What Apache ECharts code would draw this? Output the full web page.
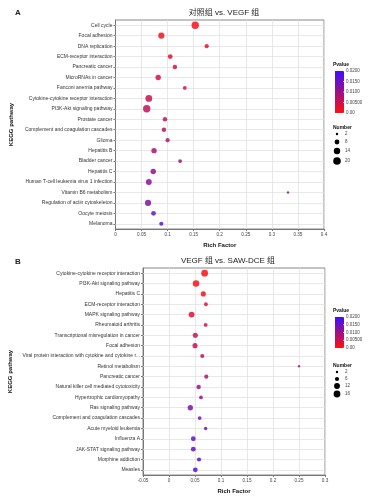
<!DOCTYPE html>
<html>
<head>
<meta charset="utf-8">
<script src="https://cdn.jsdelivr.net/npm/echarts@6/dist/echarts.min.js"></script>
<style>html,body{margin:0;padding:0;background:#fff}#c{width:383px;height:496px}</style>
</head>
<body>
<div id="c"></div>
<script>
// ---------- Panel A data ----------
const catsA = ['Cell cycle','Focal adhesion','DNA replication','ECM-receptor interaction','Pancreatic cancer','MicroRNAs in cancer','Fanconi anemia pathway','Cytokine-cytokine receptor interaction','PI3K-Akt signaling pathway','Prostate cancer','Complement and coagulation cascades','Glioma','Hepatitis B','Bladder cancer','Hepatitis C','Human T-cell leukemia virus 1 infection','Vitamin B6 metabolism','Regulation of actin cytoskeleton','Oocyte meiosis','Melanoma'];
const richA = [0.153,0.088,0.175,0.105,0.114,0.082,0.133,0.064,0.060,0.095,0.093,0.100,0.074,0.124,0.0725,0.064,0.331,0.0625,0.073,0.088];
const countA = [19,13,6,8,7,10,5,16,19,7,7,6,10,5,10,12,2,13,8,6];
const pA = [0.0008,0.0015,0.0025,0.003,0.0035,0.0045,0.005,0.0055,0.006,0.0065,0.007,0.0075,0.0085,0.009,0.011,0.012,0.012,0.013,0.0145,0.017];
const xTicksA = {min:0, max:0.4, interval:0.05};
const pTicksA = ['0.0200','0.0150','0.0100','0.00500','0.00'];
const sizeTicksA = [2,8,14,20];

// ---------- Panel B data ----------
const catsB = ['Cytokine-cytokine receptor interaction','PI3K-Akt signaling pathway','Hepatitis C','ECM-receptor interaction','MAPK signaling pathway','Rheumatoid arthritis','Transcriptional misregulation in cancer','Focal adhesion','Viral protein interaction with cytokine and cytokine r...','Retinol metabolism','Pancreatic cancer','Natural killer cell mediated cytotoxicity','Hypertrophic cardiomyopathy','Ras signaling pathway','Complement and coagulation cascades','Acute myeloid leukemia','Influenza A','JAK-STAT signaling pathway','Morphine addiction','Measles'];
const richB = [0.0685,0.052,0.066,0.071,0.0435,0.0705,0.0506,0.050,0.064,0.25,0.0717,0.057,0.0615,0.041,0.059,0.0705,0.0467,0.0467,0.0577,0.0506];
const countB = [16,15,9,5,12,5,9,9,6,2,6,7,5,10,5,4,8,8,6,8];
const pB = [0.0005,0.0008,0.0015,0.0025,0.003,0.0045,0.005,0.0055,0.0065,0.0075,0.008,0.0095,0.0115,0.0125,0.0135,0.0145,0.0155,0.016,0.0165,0.0175];
const xTicksB = {min:-0.05, max:0.3, interval:0.05};
const pTicksB = ['0.0200','0.0150','0.0100','0.00500','0.00'];
const sizeTicksB = [2,6,12,16];

const FONT = '"Liberation Sans", Arial, sans-serif';
const CJK = '"Liberation Sans", "Noto Sans CJK SC", sans-serif';
const RED = '#ff1010', BLUE = '#3a10ff';
const sz = n => Math.sqrt(n) * 1.7;

function mk(cats, rich, cnt, p) {
  return cats.map((c, i) => [rich[i], c, cnt[i], p[i]]);
}

function xAxisCfg(gi, t) {
  return {
    gridIndex: gi, type: 'value', min: t.min, max: t.max, interval: t.interval,
    name: 'Rich Factor', nameLocation: 'middle', nameGap: 13,
    nameTextStyle: {fontFamily: FONT, fontSize: 6, fontWeight: 'bold', color: '#111'},
    axisLine: {show: true, onZero: false, lineStyle: {color: '#777', width: 1}},
    axisTick: {show: true, length: 2, lineStyle: {color: '#777'}},
    axisLabel: {fontFamily: FONT, fontSize: 4.6, color: '#444', margin: 3,
      formatter: v => String(Math.round(v * 100) / 100)},
    splitLine: {show: true, lineStyle: {color: '#e2e2e2', width: 0.8}}
  };
}
function yAxisCfg(gi, cats, gap) {
  return {
    gridIndex: gi, type: 'category', data: cats, inverse: true,
    name: 'KEGG pathway', nameLocation: 'middle', nameGap: gap, nameRotate: 90,
    nameTextStyle: {fontFamily: FONT, fontSize: 6, fontWeight: 'bold', color: '#111'},
    axisLine: {show: true, onZero: false, lineStyle: {color: '#777', width: 1}},
    axisTick: {show: true, alignWithLabel: true, length: 2, lineStyle: {color: '#777'}},
    axisLabel: {fontFamily: FONT, fontSize: 5, color: '#333', margin: 3, interval: 0},
    splitLine: {show: false}
  };
}
function rowLines(gi, cats) {
  return {
    type: 'scatter', xAxisIndex: gi, yAxisIndex: gi, data: [], z: 1, silent: true,
    markLine: {
      silent: true, z: 1, symbol: ['none', 'none'], animation: false,
      label: {show: false},
      lineStyle: {color: '#e2e2e2', width: 0.8, type: 'solid'},
      data: cats.map(c => ({yAxis: c}))
    }
  };
}

function legend(x, yTop, barH, pTicks, sizes, sizeTop, sizeStep) {
  const g = [];
  g.push({type: 'text', left: x - 2, top: yTop - 9, style: {text: 'Pvalue', font: 'bold 5px ' + FONT, fill: '#111'}});
  g.push({type: 'rect', shape: {x: x, y: yTop, width: 9, height: barH},
    style: {fill: new echarts.graphic.LinearGradient(0, 0, 0, 1, [{offset: 0, color: BLUE}, {offset: 1, color: RED}])}});
  pTicks.forEach((t, i) => {
    const yy = yTop + barH * i / (pTicks.length - 1);
    g.push({type: 'line', shape: {x1: x + 8, y1: yy, x2: x + 10, y2: yy}, style: {stroke: '#fff', lineWidth: 0.6}});
    g.push({type: 'text', left: x + 11, top: yy - 2.5, style: {text: t, font: '4.5px ' + FONT, fill: '#444'}});
  });
  const ny = sizeTop;
  g.push({type: 'text', left: x - 2, top: ny - 9, style: {text: 'Number', font: 'bold 5px ' + FONT, fill: '#111'}});
  sizes.forEach((s, i) => {
    const yy = ny + sizeStep[i];
    g.push({type: 'circle', shape: {cx: x + 2, cy: yy, r: sz(s) / 2}, style: {fill: '#000'}});
    g.push({type: 'text', left: x + 10, top: yy - 2.5, style: {text: String(s), font: '4.5px ' + FONT, fill: '#444'}});
  });
  return g;
}

const chart = echarts.init(document.getElementById('c'), null, {renderer: 'canvas'});
chart.setOption({
  backgroundColor: '#fff',
  animation: false,
  title: [
    {text: 'A', left: 10, top: 4, textStyle: {fontFamily: FONT, fontSize: 8, fontWeight: 'bold', color: '#222'}},
    {text: '对照组 vs. VEGF 组', left: 219, textAlign: 'center', top: 4, textStyle: {fontFamily: CJK, fontSize: 8, fontWeight: 'normal', color: '#222'}},
    {text: 'B', left: 10, top: 253, textStyle: {fontFamily: FONT, fontSize: 8, fontWeight: 'bold', color: '#222'}},
    {text: 'VEGF 组 vs. SAW-DCE 组', left: 223, textAlign: 'center', top: 252, textStyle: {fontFamily: CJK, fontSize: 8, fontWeight: 'normal', color: '#222'}}
  ],
  grid: [
    {left: 114, right: 59, top: 20, height: 209, show: true, borderColor: '#888', borderWidth: 1},
    {left: 143, right: 58, top: 268, height: 207, show: true, borderColor: '#888', borderWidth: 1}
  ],
  xAxis: [xAxisCfg(0, xTicksA), xAxisCfg(1, xTicksB)],
  yAxis: [yAxisCfg(0, catsA, 101), yAxisCfg(1, catsB, 130)],
  visualMap: [
    {show: false, seriesIndex: 0, dimension: 3, min: 0, max: 0.02, inRange: {color: [RED, BLUE]}},
    {show: false, seriesIndex: 1, dimension: 3, min: 0, max: 0.02, inRange: {color: [RED, BLUE]}}
  ],
  series: [
    {type: 'scatter', xAxisIndex: 0, yAxisIndex: 0, z: 3, data: mk(catsA, richA, countA, pA),
      symbolSize: d => sz(d[2]), itemStyle: {opacity: 0.85}},
    {type: 'scatter', xAxisIndex: 1, yAxisIndex: 1, z: 3, data: mk(catsB, richB, countB, pB),
      symbolSize: d => sz(d[2]), itemStyle: {opacity: 0.85}},
    rowLines(0, catsA),
    rowLines(1, catsB)
  ],
  graphic: [].concat(
    legend(335, 71, 42, pTicksA, sizeTicksA, 134, [0, 8, 17, 27]),
    legend(335, 317, 31, pTicksB, sizeTicksB, 372, [0, 7, 14, 22])
  )
});
</script>
</body>
</html>
